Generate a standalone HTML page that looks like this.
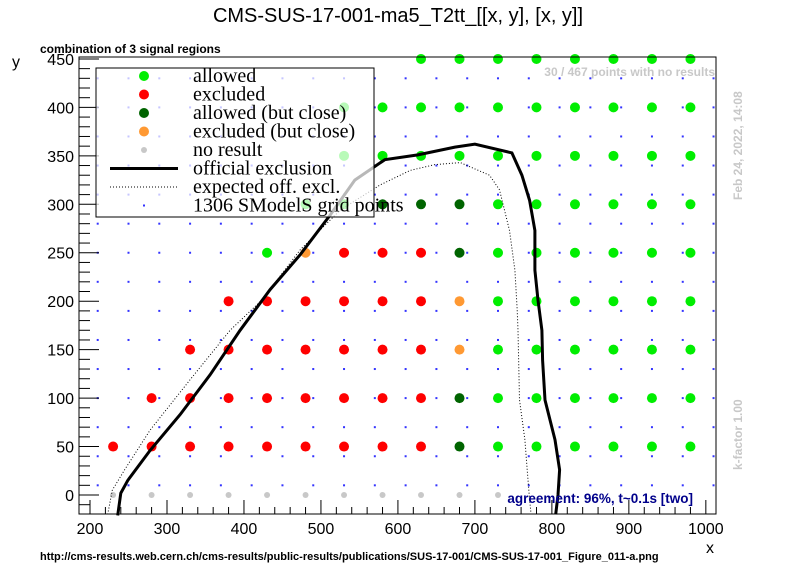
<!DOCTYPE html>
<html><head><meta charset="utf-8"><style>
body{margin:0;background:#fff;width:796px;height:572px;overflow:hidden}
svg{font-family:"Liberation Sans",Arial,sans-serif}
</style></head><body>
<svg id="chart" width="796" height="572" xmlns="http://www.w3.org/2000/svg">
<text x="398" y="22" text-anchor="middle" font-size="20">CMS-SUS-17-001-ma5_T2tt_[[x, y], [x, y]]</text>
<text x="40" y="53" font-size="12" font-weight="bold">combination of 3 signal regions</text>
<text x="715" y="76" text-anchor="end" font-size="12" font-weight="bold" fill="#c8c8c8">30 / 467 points with no results</text>
<text transform="translate(742,200) rotate(-90)" font-size="12" font-weight="bold" fill="#c8c8c8">Feb 24, 2022, 14:08</text>
<text transform="translate(742,470) rotate(-90)" font-size="12" font-weight="bold" fill="#c8c8c8">k-factor 1.00</text>
<text x="40" y="560" font-size="11" font-weight="bold">http://cms-results.web.cern.ch/cms-results/public-results/publications/SUS-17-001/CMS-SUS-17-001_Figure_011-a.png</text>
<text x="706" y="553" font-size="16">x</text>
<text x="12" y="67" font-size="16">y</text>
<g id="grid"></g>
<g id="pts"></g>
<g id="curves"></g>
<g id="axes"></g>
<g id="legend"></g>
<text x="693" y="503" text-anchor="end" font-size="13.5" font-weight="bold" fill="#00008b">agreement: 96%, t~0.1s [two]</text>
</svg>
<script>
const xTicks=[200,300,400,500,600,700,800,900,1000];
const yTicks=[0,50,100,150,200,250,300,350,400,450];
const colX=[230,280,330,380,430,480,530,580,630,680,730,780,830,880,930,980];
// row status strings per y: g=allowed, r=excluded, d=allowed close, o=excluded close, n=no result, .=none
const rowY=[0,50,100,150,200,250,300,350,400,450];
const rowStatus=[
"nnnnnnnnnnn.....",
"rrrrrrrrrdgggggg",
".rrrrrrrrdgggggg",
"..rrrrrrrogggggg",
"...rrrrrrogggggg",
"....gorrrdgggggg",
".....ggdddgggggg",
"......gggggggggg",
"......gggggggggg",
"........gggggggg"];
const offX=[236,240,249,278,317,356,395,434,473,512,544,583,626,674,700,748,761,771,778,778,782,787,788,791,804,810,808,805];
const offY=[-21,2,15,46,83,124,170,212,248,289,325,346,351,359,362,353,330,304,273,232,201,170,139,98,57,26,0,-20];
const expX=[223,229,245,278,330,382,423,473,525,577,616,648,681,719,732,745,752,755,756,758,765,768,771,773];
const expY=[-20,5,26,67,119,170,201,253,294,320,335,341,343,330,315,273,232,191,170,98,57,26,-5,-20];
const NS="http://www.w3.org/2000/svg";
const L=79,R=716,T=57,B=514;
const X0=185.7,X1=1013.2,Y0=-19.6,Y1=452;
const sx=v=>L+(v-X0)/(X1-X0)*(R-L);
const sy=v=>B-(v-Y0)/(Y1-Y0)*(B-T);
function mk(p,t,a){const e=document.createElementNS(NS,t);for(const k in a)e.setAttribute(k,a[k]);p.appendChild(e);return e;}
const grid=document.getElementById('grid');
for(let gx=210;gx<=1010;gx+=40)for(let gy=10;gy<=450;gy+=30){
 const e=mk(grid,'rect',{x:sx(gx)-1,y:sy(gy)-1,width:2,height:2,fill:'#3333ff'});
 
 
}
const col={g:'#00ee00',r:'#ff0000',d:'#006400',o:'#ff9933',n:'#c8c8c8'};
const pts=document.getElementById('pts');
rowY.forEach((y,i)=>{[...rowStatus[i]].forEach((c,j)=>{
 if(c==='.')return;
 const e=mk(pts,'circle',{cx:sx(colX[j]),cy:sy(y),r:c==='n'?3:5,fill:col[c]});
 
 
});});
const cv=document.getElementById('curves');
const path=(xs,ys)=>xs.map((x,i)=>(i?'L':'M')+sx(x).toFixed(1)+','+sy(ys[i]).toFixed(1)).join('');
const ex=mk(cv,'path',{d:path(expX,expY),fill:'none',stroke:'#000','stroke-width':1,'stroke-dasharray':'1,2'});


const of=mk(cv,'path',{d:path(offX,offY),fill:'none',stroke:'#000','stroke-width':3});


const ax=document.getElementById('axes');
const fr=mk(ax,'rect',{x:L,y:T,width:R-L,height:B-T,fill:'none',stroke:'#000','stroke-width':1});


for(let v=200;v<=1000;v+=20){const maj=v%100===0;mk(ax,'line',{x1:sx(v),x2:sx(v),y1:B,y2:B-(maj?14:7),stroke:'#000'});}
for(let v=-10;v<=450;v+=10){const maj=v%50===0;mk(ax,'line',{x1:L,x2:L+(maj?20:11),y1:sy(v),y2:sy(v),stroke:'#000'});}
xTicks.forEach(v=>{const t=mk(ax,'text',{x:sx(v),y:B+20,'text-anchor':'middle','font-size':16});t.textContent=v;
 
 });
yTicks.forEach(v=>{const t=mk(ax,'text',{x:L-5,y:sy(v)+6,'text-anchor':'end','font-size':16});t.textContent=v;
 
 });
const lg=document.getElementById('legend');
mk(lg,'rect',{x:96,y:68,width:278,height:149,fill:'#fff','fill-opacity':0.72,stroke:'#000'});
const items=[['g','allowed'],['r','excluded'],['d','allowed (but close)'],['o','excluded (but close)'],['n','no result'],['L','official exclusion'],['D','expected off. excl.'],['B','1306 SModelS grid points']];
items.forEach((it,i)=>{
 const y=76+i*18.5;
 if(col[it[0]])mk(lg,'circle',{cx:144,cy:y,r:it[0]==='n'?3:5,fill:col[it[0]]});
 else if(it[0]==='L')mk(lg,'line',{x1:110,x2:178,y1:y,y2:y,stroke:'#000','stroke-width':3});
 else if(it[0]==='D')mk(lg,'line',{x1:110,x2:178,y1:y,y2:y,stroke:'#000','stroke-dasharray':'1,2'});
 else mk(lg,'rect',{x:143,y:y-1,width:2,height:2,fill:'#3333ff'});
 const t=mk(lg,'text',{x:193,y:y+6,'font-size':20,'font-family':'"Liberation Serif",serif'});t.textContent=it[1];
 
 
});
</script>
</body></html>
